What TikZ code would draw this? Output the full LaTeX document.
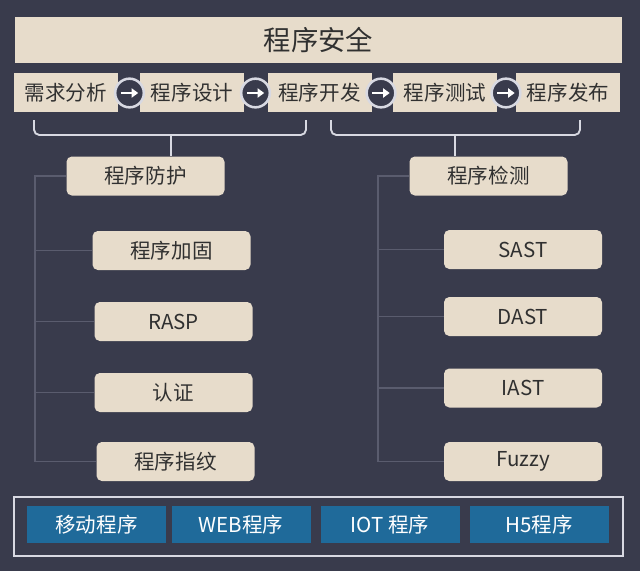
\documentclass[tikz,border=0pt]{standalone}
\usepackage{fontspec}
\setmainfont{Noto Sans CJK SC}
\usetikzlibrary{arrows.meta}
\definecolor{bgdark}{HTML}{393B4C}
\definecolor{paper}{HTML}{E7DCCB}
\definecolor{ink}{HTML}{303030}
\definecolor{twig}{HTML}{5A5C6E}
\definecolor{appblue}{HTML}{1F6A9A}
\definecolor{rim}{HTML}{D8D9E2}
\tikzset{
  headbox/.style={fill=paper, text=ink, inner sep=0pt, minimum width=455.25pt, minimum height=34.5pt, font=\fontsize{20.5}{24}\selectfont},
  stage/.style={fill=paper, text=ink, inner sep=0pt, minimum width=78pt, minimum height=29.25pt, font=\fontsize{15.4}{18}\selectfont},
  go/.style={circle, draw=rim, line width=1.9pt, fill=bgdark, minimum size=21.5pt, inner sep=0pt},
  goarrow/.style={white, line width=1.6pt, -{Triangle[length=5pt,width=7pt]}},
  group/.style={fill=paper, text=ink, rounded corners=4pt, inner sep=0pt, minimum width=118.5pt, minimum height=29.25pt, font=\fontsize{15.4}{18}\selectfont},
  leaf/.style={group},
  brace/.style={draw=rim, line width=1.4pt, rounded corners=4pt},
  twigline/.style={draw=twig, line width=0.9pt},
  app/.style={fill=appblue, text=white, inner sep=0pt, minimum width=104.25pt, minimum height=27.75pt, font=\fontsize{15.4}{18}\selectfont},
  deck/.style={draw=rim, line width=1.2pt, inner sep=0pt, minimum width=456.75pt, minimum height=44.25pt}
}
\begin{document}
\begin{tikzpicture}[x=0.75pt,y=-0.75pt]
        \fill[bgdark] (0,0) rectangle (640,571);
        \useasboundingbox (0,0) rectangle (640,571);
        \node[headbox] (title) at (318.5,40) {程序安全};
        \node[stage] (s1) at (66,92.5) {需求分析};
        \node[stage] (s2) at (192,92.5) {程序设计};
        \node[stage] (s3) at (319.5,92.5) {程序开发};
        \node[stage] (s4) at (445,92.5) {程序测试};
        \node[stage] (s5) at (568,92.5) {程序发布};
        \node[go] (g1) at (129.5,93) {};
        \node[go] (g2) at (255.5,93) {};
        \node[go] (g3) at (381,93) {};
        \node[go] (g4) at (506,93) {};
        \foreach \g in {g1,g2,g3,g4}
            \draw[goarrow] ([xshift=-6.5pt]\g.center) -- ([xshift=6.5pt]\g.center);
        \node[group] (prot) at (145.5,176) {程序防护};
        \node[group] (det) at (488.5,176) {程序检测};
        \coordinate (bl) at (171,135);
        \coordinate (br) at (455,135);
        \draw[brace] (34,120) -- (34,135) -- (306,135) -- (306,120);
        \draw[brace] (331,120) -- (331,135) -- (580,135) -- (580,120);
        \draw[brace] (bl) -- (bl |- prot.north);
        \draw[brace] (br) -- (br |- det.north);
        \node[leaf] (p1) at (171.5,250.5) {程序加固};
        \node[leaf] (p2) at (173.5,321.5) {RASP};
        \node[leaf] (p3) at (173.5,392.5) {认证};
        \node[leaf] (p4) at (175.5,461.5) {程序指纹};
        \node[leaf] (d1) at (523,249.5) {SAST};
        \node[leaf] (d2) at (523,316.5) {DAST};
        \node[leaf] (d3) at (523,388) {IAST};
        \node[leaf] (d4) at (523,461.5) {Fuzzy};
        \coordinate (lt) at (35,176);
        \coordinate (rt) at (378,176);
        \draw[twigline] (prot.west) -- (lt) -- (lt |- p4.west) -- (p4.west);
        \draw[twigline] (det.west) -- (rt) -- (rt |- d4.west) -- (d4.west);
        \foreach \c in {p1,p2,p3}
            \draw[twigline] (lt |- \c.west) -- (\c.west);
        \foreach \c in {d1,d2,d3}
            \draw[twigline] (rt |- \c.west) -- (\c.west);
        \node[deck] (deck) at (318.5,526.5) {};
        \node[app] (a1) at (96.5,524.5) {移动程序};
        \node[app] (a2) at (241,524.5) {WEB程序};
        \node[app] (a3) at (390,524.5) {IOT 程序};
        \node[app] (a4) at (539,524.5) {H5程序};
    \end{tikzpicture}
\end{document}
